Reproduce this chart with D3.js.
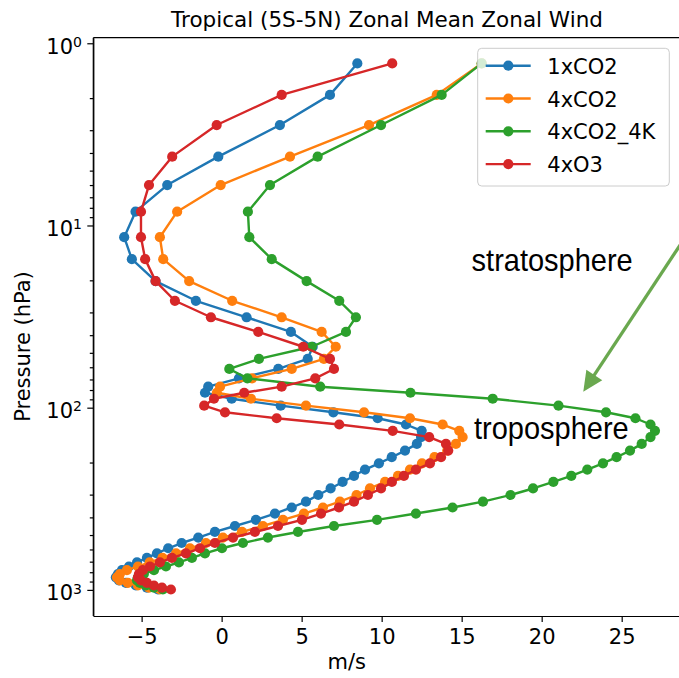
<!DOCTYPE html>
<html><head><meta charset="utf-8">
<script src="https://cdn.jsdelivr.net/npm/d3@7"></script>
<style>body{margin:0;background:#fff;} svg{display:block;}</style>
</head><body>
<svg id="c" width="679" height="678"></svg>
<script>
// ---- data ----
const pressure = [1.29, 1.92, 2.81, 4.19, 6.0, 8.4, 11.6, 15.3, 20.2, 25.9, 31.9, 38.4, 46.3, 54.0, 61.3, 69.0, 76.7, 82.8, 89.3, 97.5,
  106, 114.3, 123.7, 134, 145, 158, 172, 187, 202, 218.5, 237, 255.7, 277.6, 301.5, 328, 353, 381, 412.5, 446, 481,
  516, 553, 591, 630, 668, 707, 744, 780, 818, 853, 886, 916, 946, 972, 995];
const u1xCO2 = [8.48, 6.77, 3.64, -0.21, -3.40, -5.38, -6.09, -5.61, -4.13, -1.61, 1.56, 4.33, 5.69, 5.38, 3.54, 1.08, -0.84, -1.04, 0.63, 3.69,
  6.98, 9.75, 11.52, 12.5, 12.46, 12.2, 11.46, 10.63, 9.83, 8.96, 8.27, 7.56, 6.81, 6.04, 5.27, 4.38, 3.33, 2.14, 0.83, -0.42,
  -1.46, -2.5, -3.34, -4.04, -4.67, -5.29, -5.79, -6.23, -6.48, -6.61, -6.42, -5.98, -5.36, -4.67, -3.98];
const u4xCO2 = [16.25, 13.44, 9.21, 4.27, -0.06, -2.78, -3.86, -3.65, -2.03, 0.66, 3.75, 6.25, 7.13, 6.39, 4.38, 1.9, -0.1, -0.3, 1.83, 5.27,
  8.9, 11.77, 13.81, 14.85, 15.06, 14.64, 14.1, 13.3, 12.52, 11.77, 11.02, 10.21, 9.27, 8.43, 7.39, 6.33, 5.14, 3.83, 2.58, 1.27,
  0.08, -0.98, -1.98, -2.85, -3.7, -4.5, -5.23, -5.92, -6.36, -6.54, -6.36, -5.86, -5.23, -4.54, -3.86];
const u4xCO2_4K = [16.25, 13.75, 9.96, 6.0, 3.02, 1.64, 1.73, 3.13, 5.31, 7.35, 8.39, 7.77, 5.63, 2.33, 0.48, 1.61, 6.16, 11.8, 16.94, 21.05,
  24.02, 25.86, 26.8, 27.08, 26.8, 26.25, 25.52, 24.68, 23.83, 22.85, 21.85, 20.73, 19.46, 18.05, 16.33, 14.43, 12.14, 9.71, 7.02, 4.77,
  2.89, 1.33, 0.02, -1.04, -1.86, -2.67, -3.48, -4.23, -4.86, -5.23, -5.29, -5.11, -4.73, -4.23, -3.67];
const u4xO3 = [10.66, 3.75, -0.31, -3.09, -4.54, -5.04, -5.04, -4.78, -4.13, -2.92, -0.67, 2.29, 5.1, 6.77, 7.02, 5.85, 3.75, 1.41, -0.48, -1.09,
  0.21, 3.44, 7.35, 10.69, 12.97, 14.02, 14.16, 13.71, 13.02, 12.14, 11.39, 10.64, 9.96, 9.14, 8.27, 7.33, 6.21, 5.02, 3.52, 2.08,
  0.71, -0.42, -1.36, -2.23, -3.11, -3.86, -4.48, -4.92, -5.17, -5.23, -5.04, -4.67, -4.23, -3.73, -3.17];
const seriesNames = ["1xCO2", "4xCO2", "4xCO2_4K", "4xO3"];
const seriesValues = [u1xCO2, u4xCO2, u4xCO2_4K, u4xO3];
const colors = ["#1f77b4", "#ff7f0e", "#2ca02c", "#d62728"];
const xTicks = [-5, 0, 5, 10, 15, 20, 25];
const yTicks = [1, 10, 100, 1000];
const titleText = "Tropical (5S-5N) Zonal Mean Zonal Wind";
const xLabel = "m/s";
const yLabel = "Pressure (hPa)";
// annotations in data coordinates [m/s, hPa]
const annoLabels = ["stratosphere", "troposphere"];
const annoPos = [[15.62, 17.7], [15.77, 149.1]];
const arrowFrom = [29.25, 10.65];
const arrowTo = [22.6, 81.7];

// ---- layout ----
const L = 93.3, R = 687.3, T = 37.7, B = 616;
const svg = d3.select("#c");
const x = d3.scaleLinear().domain([-8.02, 29.1]).range([L, R]);
const y = d3.scaleLog().domain([0.932, 1391]).range([T, B]);
const FONT = "'DejaVu Sans', sans-serif";

svg.append("defs").append("clipPath").attr("id", "clip")
  .append("rect").attr("x", L).attr("y", T).attr("width", R - L).attr("height", B - T);

const plot = svg.append("g").attr("clip-path", "url(#clip)");
const line = d3.line().x(d => x(d[0])).y(d => y(d[1]));

seriesValues.forEach((vals, i) => {
  const pts = vals.map((v, k) => [v, pressure[k]]);
  const g = plot.append("g");
  g.append("path").attr("d", line(pts)).attr("fill", "none")
    .attr("stroke", colors[i]).attr("stroke-width", 2.4).attr("stroke-linejoin", "round");
  g.selectAll("circle").data(pts).join("circle")
    .attr("cx", d => x(d[0])).attr("cy", d => y(d[1])).attr("r", 5.1).attr("fill", colors[i]);
});

// axes
const xAxis = d3.axisBottom(x).tickValues(xTicks).tickSize(6).tickSizeOuter(0).tickFormat(d3.format("d"));
const gx = svg.append("g").attr("transform", `translate(0,${B})`).call(xAxis);
gx.selectAll("text").attr("dy", null).attr("y", 28).attr("font-size", 21).attr("font-family", FONT).attr("fill", "#000");
gx.attr("font-family", FONT);

const yAxis = d3.axisLeft(y).tickValues(yTicks).tickSize(6).tickSizeOuter(0).tickFormat(() => "");
const gy = svg.append("g").attr("transform", `translate(${L},0)`).call(yAxis);
gy.selectAll(".tick").append("text")
  .attr("x", -11.3).attr("y", 0).attr("dy", 10).attr("text-anchor", "end")
  .attr("font-family", FONT).attr("font-size", 21).attr("fill", "#000")
  .each(function(d) {
    const t = d3.select(this);
    t.append("tspan").text("10");
    t.append("tspan").attr("font-size", 14).attr("dy", -6.8).text(Math.round(Math.log10(d)));
  });

const minor = [];
for (let e = -1; e <= 3; e++) for (let m = 2; m <= 9; m++) {
  const v = m * Math.pow(10, e);
  if (v > y.domain()[0] && v < y.domain()[1]) minor.push(v);
}
const gym = svg.append("g").attr("transform", `translate(${L},0)`)
  .call(d3.axisLeft(y).tickValues(minor).tickSize(3.5).tickSizeOuter(0).tickFormat(() => ""));
gym.select(".domain").remove();

svg.selectAll(".domain, .tick line").attr("stroke", "#000").attr("stroke-width", 1.2);

// top and left spines
svg.append("line").attr("x1", L).attr("x2", R).attr("y1", T).attr("y2", T)
  .attr("stroke", "#000").attr("stroke-width", 1.2);
svg.append("line").attr("x1", L).attr("x2", L).attr("y1", T).attr("y2", B)
  .attr("stroke", "#000").attr("stroke-width", 1.2);

// title & labels
svg.append("text").attr("x", 387).attr("y", 26.7).attr("text-anchor", "middle")
  .attr("font-family", FONT).attr("font-size", 21.5).text(titleText);
svg.append("text").attr("x", 346.7).attr("y", 669).attr("text-anchor", "middle")
  .attr("font-family", FONT).attr("font-size", 21).text(xLabel);
svg.append("text").attr("transform", "translate(30,346.5) rotate(-90)").attr("text-anchor", "middle")
  .attr("font-family", FONT).attr("font-size", 21).text(yLabel);

// legend
const lg = svg.append("g");
lg.append("rect").attr("x", 477.7).attr("y", 48.3).attr("width", 191.6).attr("height", 137.7).attr("rx", 4)
  .attr("fill", "#fff").attr("fill-opacity", 0.8).attr("stroke", "#cccccc").attr("stroke-width", 1);
seriesNames.forEach((n, i) => {
  const cy = 65.7 + i * 32.8;
  lg.append("line").attr("x1", 485.7).attr("x2", 530.7).attr("y1", cy).attr("y2", cy)
    .attr("stroke", colors[i]).attr("stroke-width", 2.4);
  lg.append("circle").attr("cx", 508.3).attr("cy", cy).attr("r", 5.1).attr("fill", colors[i]);
  lg.append("text").attr("x", 547.3).attr("y", cy + 8).attr("font-family", FONT).attr("font-size", 21).text(n);
});

// annotations
annoLabels.forEach((t, i) => {
  svg.append("text")
    .attr("transform", `translate(${x(annoPos[i][0])},${y(annoPos[i][1])}) scale(1,1.08)`)
    .attr("font-family", "'Liberation Sans', Arial, sans-serif").attr("font-size", 29).attr("fill", "#000").text(t);
});
const ax0 = x(arrowFrom[0]), ay0 = y(arrowFrom[1]), ax1 = x(arrowTo[0]), ay1 = y(arrowTo[1]);
const len = Math.hypot(ax1 - ax0, ay1 - ay0), ux = (ax1 - ax0) / len, uy = (ay1 - ay0) / len;
const hl = 20, hw = 9.5;
const bx = ax1 - ux * hl, by = ay1 - uy * hl;
svg.append("line").attr("x1", ax0).attr("y1", ay0).attr("x2", bx + ux * 2).attr("y2", by + uy * 2)
  .attr("stroke", "#6aa84f").attr("stroke-width", 3.3);
svg.append("polygon")
  .attr("points", [[ax1, ay1], [bx - uy * hw, by + ux * hw], [bx + uy * hw, by - ux * hw]].map(p => p.join(",")).join(" "))
  .attr("fill", "#6aa84f");
</script>
</body></html>
